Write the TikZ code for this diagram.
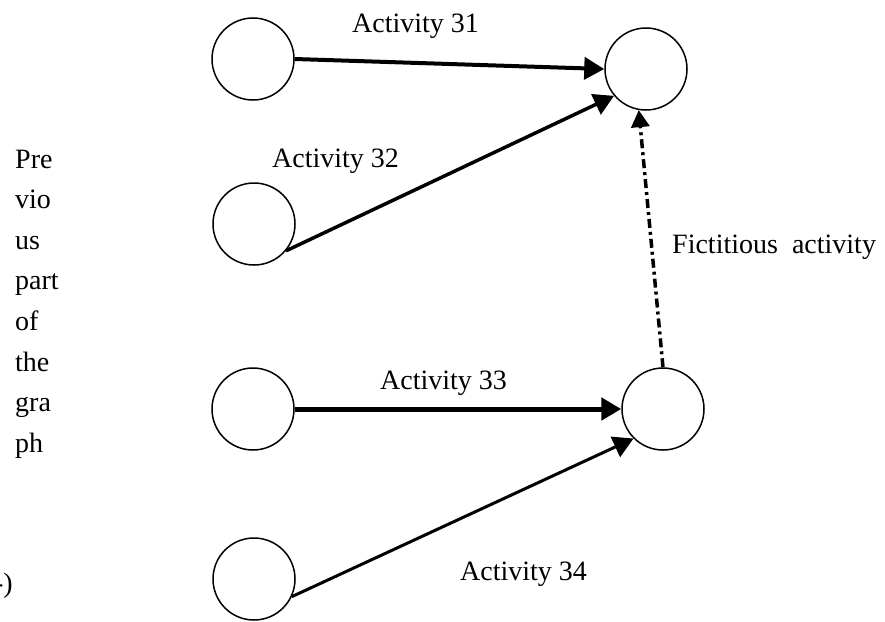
\documentclass[tikz,border=0pt]{standalone}
\usepackage{fontspec}
\setmainfont{Liberation Serif}
\usetikzlibrary{arrows.meta}
\begin{document}
\begin{tikzpicture}[x=1pt,y=-1pt,
  ev/.style={circle,draw,line width=1.5pt,minimum size=82pt,inner sep=0pt},
  lbl/.style={font=\fontsize{28}{34}\selectfont,inner sep=0pt,anchor=base west},
  act/.style={line width=#1,-{Triangle[length=20pt,width=22pt]}},
  fict/.style={line width=3.5pt,dash pattern=on 9pt off 4pt on 3pt off 4pt,-{Triangle[length=17pt,width=18pt]}}]
\useasboundingbox (0,0) rectangle (885,621);
% events
\node[ev] (l1) at (253,59) {};
\node[ev] (l2) at (254,224) {};
\node[ev] (l3) at (253,409) {};
\node[ev] (l4) at (254,579) {};
\node[ev] (r1) at (646,69) {};
\node[ev] (r2) at (663,409) {};
% activities
\draw[act=4pt] (l1.east) -- (r1.west);
\draw[act=3.5pt] (l2.-40) -- (r1.-140);
\draw[act=5pt] (l3.east) -- (r2.west);
\draw[act=3pt] (l4.-25) -- (r2.-135);
\draw[fict] (r2.north) -- (r1.-100);
% labels
\node[lbl] (t31) at (352,32) {Activity 31};
\node[lbl] (t32) at (272,167) {Activity 32};
\node[lbl] (t33) at (380,389) {Activity 33};
\node[lbl] (t34) at (460,580) {Activity 34};
\node[lbl] (tf) at (672,253) {Fictitious\hspace{7pt} activity};
% left text
\foreach \w [count=\i from 0] in {Pre,vio,us,part,of,the,gra,ph}
  \node[lbl] (p\i) at (15,{168+40.6*\i}) {\w};
\node[font=\fontsize{28}{34}\selectfont,inner sep=0pt,anchor=base east] (cap) at (13,592) {-)};
\end{tikzpicture}
\end{document}
